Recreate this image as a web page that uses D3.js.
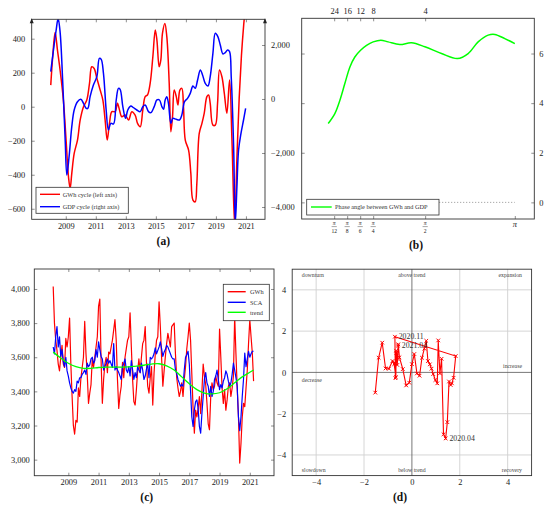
<!DOCTYPE html>
<html>
<head>
<meta charset="utf-8">
<script src="https://cdn.jsdelivr.net/npm/d3@7"></script>
<style>
  body { margin: 0; background: #fff; }
</style>
</head>
<body>
<svg id="fig" width="550" height="509"></svg>
<script>
// ---- data ----

// (a) cyclical components: [year, value]
var gwhCycle = [[2008.0,127],[2008.13,294],[2008.29,437],[2008.45,330],[2008.62,216],[2008.84,39],[2009.02,-196],[2009.18,-412],[2009.29,-480],[2009.4,-392],[2009.56,-275],[2009.78,-196],[2009.96,-78],[2010.18,0],[2010.4,39],[2010.58,137],[2010.73,235],[2010.89,225],[2011.07,167],[2011.29,98],[2011.47,39],[2011.62,-78],[2011.76,-196],[2011.91,-98],[2012.07,-29],[2012.29,-29],[2012.44,20],[2012.58,-20],[2012.73,-59],[2012.96,-49],[2013.18,-78],[2013.4,-29],[2013.62,-49],[2013.78,-98],[2013.96,-118],[2014.13,-20],[2014.29,59],[2014.44,69],[2014.62,137],[2014.8,294],[2014.96,451],[2015.07,392],[2015.22,235],[2015.33,274],[2015.44,431],[2015.6,490],[2015.73,412],[2015.89,137],[2016.0,-147],[2016.11,-59],[2016.22,98],[2016.36,59],[2016.47,10],[2016.6,98],[2016.73,108],[2016.84,0],[2016.96,-196],[2017.18,-255],[2017.33,-392],[2017.47,-549],[2017.62,-559],[2017.73,-451],[2017.89,-157],[2018.07,-98],[2018.22,-39],[2018.4,59],[2018.51,69],[2018.62,20],[2018.8,-108],[2018.96,-108],[2019.11,20],[2019.24,216],[2019.4,176],[2019.56,78],[2019.73,-39],[2019.91,157],[2020.07,-200],[2020.25,-700],[2020.4,-300],[2020.55,50],[2020.7,300],[2020.85,480],[2021.0,620]];
var gdpCycle = [[2008.0,1012],[2008.18,1815],[2008.36,2556],[2008.49,2988],[2008.62,2494],[2008.8,580],[2008.96,-1519],[2009.07,-2815],[2009.22,-2136],[2009.4,-1025],[2009.56,-407],[2009.78,-99],[2010.0,-12],[2010.18,-160],[2010.36,-346],[2010.47,-346],[2010.62,86],[2010.84,519],[2011.07,827],[2011.24,1506],[2011.36,1469],[2011.51,951],[2011.69,-407],[2011.84,-1148],[2012.0,-901],[2012.18,-926],[2012.36,-37],[2012.51,395],[2012.62,358],[2012.8,-284],[2012.98,-716],[2013.13,-407],[2013.33,-259],[2013.51,-321],[2013.73,-407],[2013.96,-469],[2014.13,-284],[2014.29,-222],[2014.51,-469],[2014.67,-506],[2014.89,-284],[2015.07,-37],[2015.24,-37],[2015.4,-284],[2015.51,-383],[2015.62,-37],[2015.73,86],[2015.84,-160],[2016.0,-901],[2016.13,-716],[2016.36,-753],[2016.58,-778],[2016.73,-593],[2016.91,-99],[2017.11,25],[2017.29,210],[2017.47,481],[2017.62,395],[2017.78,704],[2017.96,1074],[2018.11,889],[2018.29,580],[2018.47,481],[2018.62,827],[2018.8,1691],[2018.96,2432],[2019.13,2309],[2019.29,2000],[2019.47,1667],[2019.62,1716],[2019.78,1815],[2019.91,1753],[2020.02,827],[2020.18,-1765],[2020.29,-4600],[2020.4,-3247],[2020.51,-1889],[2020.67,-1272],[2020.84,-778],[2020.98,-346]];
var yearTicks = [2009, 2011, 2013, 2015, 2017, 2019, 2021];
var gwhCycleTicks = [-600, -400, -200, 0, 200, 400];
var gdpCycleTicks = [-4000, -2000, 0, 2000];

// (b) phase angle against frequency position: [position, value]
var phaseAngle = [[0.54,3.18],[1.05,3.58],[1.44,4.12],[1.82,4.79],[2.21,5.46],[2.59,5.86],[3.03,6.13],[3.49,6.33],[4.0,6.47],[4.59,6.54],[5.15,6.47],[6.05,6.36],[6.95,6.43],[7.98,6.27],[9.26,6.0],[10.49,5.8],[11.31,6.0],[12.08,6.47],[12.85,6.74],[13.36,6.77],[14.13,6.6],[14.9,6.4]];
var periodTicks = [{at: 1, label: "24"}, {at: 2, label: "16"}, {at: 3, label: "12"}, {at: 4, label: "8"}, {at: 8, label: "4"}];
var freqTicks = [{at: 1, den: "12"}, {at: 2, den: "8"}, {at: 3, den: "6"}, {at: 4, den: "4"}, {at: 8, den: "2"}, {at: 14.9, den: null}];
var phaseTicks = [0, 2, 4, 6];

// (c) monthly series from Jan 2008 to Apr 2021
var seriesStart = 2008;
var gwhMonthly = [
  4014,3800,3700,3640,3560,3520,3600,3670,3560,3540,3710,3660,
  3720,3830,3560,3370,3200,3150,3230,3220,3420,3370,3480,3540,
  3600,3810,3620,3500,3330,3390,3440,3590,3540,3600,3660,3720,
  3900,3940,3580,3330,3470,3560,3600,3510,3630,3620,3660,3700,
  3760,3820,3700,3470,3300,3380,3430,3570,3480,3600,3650,3700,
  3720,3860,3660,3470,3340,3320,3410,3520,3590,3510,3600,3680,
  3700,3780,3570,3430,3390,3480,3545,3320,3505,3620,3700,3720,
  3925,3780,3600,3430,3520,3605,3680,3740,3700,3660,3780,3790,
  3800,3620,3480,3420,3370,3400,3450,3370,3470,3545,3650,3720,
  3800,3700,3500,3300,3155,3290,3250,3300,3370,3270,3400,3560,
  3490,3440,3330,3210,3175,3370,3450,3410,3430,3490,3450,3430,
  3765,3600,3420,3330,3410,3290,3350,3430,3450,3370,3420,3490,
  3840,3620,3420,3250,2980,3095,3250,3330,3310,3420,3525,3680,
  3820,3720,3625,3460];
var scaMonthly = [
  3660,3620,3720,3780,3660,3720,3605,3645,3575,3545,3600,3520,
  3490,3450,3420,3400,3390,3410,3400,3460,3450,3480,3480,3500,
  3510,3525,3500,3565,3545,3555,3590,3600,3565,3580,3645,3600,
  3690,3645,3605,3590,3525,3545,3565,3590,3565,3580,3560,3540,
  3680,3525,3545,3525,3510,3490,3470,3545,3565,3590,3525,3510,
  3545,3490,3580,3525,3470,3510,3480,3545,3525,3510,3565,3525,
  3470,3490,3530,3560,3480,3600,3590,3600,3620,3655,3620,3640,
  3660,3690,3650,3605,3630,3645,3670,3660,3640,3620,3600,3590,
  3590,3525,3505,3470,3450,3430,3440,3430,3525,3600,3615,3635,
  3560,3400,3250,3195,3290,3340,3350,3300,3195,3155,3270,3370,
  3470,3510,3450,3430,3370,3430,3370,3400,3470,3490,3525,3470,
  3410,3440,3420,3460,3480,3520,3500,3460,3430,3450,3500,3565,
  3525,3480,3430,3250,3170,3250,3370,3470,3625,3545,3590,3635,
  3600,3620,3635,3635];
var trendYears = [2008,2008.5,2009,2009.5,2010,2010.5,2011,2011.5,2012,2012.5,2013,2013.5,2014,2014.5,2015,2015.5,2016,2016.5,2017,2017.5,2018,2018.5,2019,2019.5,2020,2020.5,2021,2021.25];
var trendValues = [3630,3595,3565,3545,3535,3535,3540,3542,3542,3542,3543,3548,3553,3560,3562,3550,3525,3485,3445,3410,3390,3385,3392,3415,3450,3485,3512,3525];
var gwhTicks = [3000, 3200, 3400, 3600, 3800, 4000];

// (d) cycle clock: [growth, deviation], in time order
var clockPoints = [[-1.53,-0.98],[-1.39,0.71],[-1.24,1.44],[-1.10,0.19],[-0.96,0.18],[-0.81,0.55],[-0.74,0.40],[-0.67,-0.23],[-0.66,1.05],[-0.61,0.36],[-0.57,1.36],[-0.52,0.73],[-0.38,0.16],[-0.24,-0.63],[-0.11,-0.50],[0.0,0.40],[0.10,0.89],[0.21,-0.05],[0.32,-0.16],[0.42,0.71],[0.52,1.15],[0.60,1.53],[0.67,0.55],[0.75,0.39],[0.82,0.18],[0.89,-0.08],[0.98,-0.37],[1.06,-0.53],[1.10,1.55],[1.17,-0.05],[1.24,0.66],[1.32,-3.0],[1.41,-3.2],[1.48,-2.41],[1.55,-0.44],[1.62,-0.61],[1.67,-0.53],[1.74,-0.26],[1.83,0.79],[-0.71,1.73],[-0.69,-0.28],[-0.70,0.45],[-0.65,0.95],[-0.60,0.65],[-0.58,1.30]];
var clockLabels = [{i: 32, text: "2020.04"}, {i: 39, text: "2020.11"}, {i: 44, text: "2021.04"}];
var clockTicks = [-4, -2, 0, 2, 4];
var clockGrid = [-4, -2, 2, 4];

// ---- drawing ----
var svg = d3.select("#fig");
var serif = '"Liberation Serif","DejaVu Serif",serif';
svg.attr("font-family", serif);

function frame(r) {
  svg.append("rect")
    .attr("x", r.left).attr("y", r.top)
    .attr("width", r.right - r.left).attr("height", r.bottom - r.top)
    .attr("fill", "none").attr("stroke", "#333").attr("stroke-width", 0.9);
}

function clipFor(id, r) {
  svg.append("clipPath").attr("id", id).append("rect")
    .attr("x", r.left).attr("y", r.top)
    .attr("width", r.right - r.left).attr("height", r.bottom - r.top);
  return svg.append("g").attr("clip-path", "url(#" + id + ")");
}

function axis(gen, tx, ty) {
  var a = svg.append("g").attr("transform", "translate(" + tx + "," + ty + ")").call(gen);
  a.attr("font-family", serif).attr("font-size", 8.4);
  a.select(".domain").remove();
  a.selectAll("line").attr("stroke", "#444").attr("stroke-width", 0.6);
  a.selectAll("text").attr("fill", "#222");
  return a;
}

function legend(box, rows, x1, x2, tx) {
  svg.append("rect").attr("x", box[0]).attr("y", box[1])
    .attr("width", box[2] - box[0]).attr("height", box[3] - box[1])
    .attr("fill", "#fff").attr("stroke", "#333").attr("stroke-width", 0.8);
  rows.forEach(function (r) {
    svg.append("line").attr("x1", x1).attr("x2", x2).attr("y1", r.y).attr("y2", r.y)
      .attr("stroke", r.color).attr("stroke-width", 1.4);
    svg.append("text").attr("x", tx).attr("y", r.y).attr("dy", "0.35em")
      .attr("font-size", 6.3).attr("fill", "#333").text(r.label);
  });
}

function caption(x, y, t) {
  svg.append("text").attr("x", x).attr("y", y).attr("dy", "0.35em")
    .attr("text-anchor", "middle").attr("font-size", 11.5).attr("font-weight", "bold")
    .attr("fill", "#111").text(t);
}

var fmtComma = d3.format(",");

// ===== (a) =====
var A = {left: 31.7, right: 265, top: 19.3, bottom: 219.3};
var xA = d3.scaleLinear().domain([2006.73, 2022.27]).range([A.left, A.right]);
var yAL = d3.scaleLinear().domain([-662, 514]).range([A.bottom, A.top]);
var yAR = d3.scaleLinear().domain([-4456, 2952]).range([A.bottom, A.top]);

axis(d3.axisBottom(xA).tickValues(yearTicks).tickFormat(d3.format("d")).tickSizeInner(-3).tickSizeOuter(0).tickPadding(4), 0, A.bottom);
axis(d3.axisTop(xA).tickValues(yearTicks).tickFormat("").tickSizeInner(-3).tickSizeOuter(0), 0, A.top);
axis(d3.axisLeft(yAL).tickValues(gwhCycleTicks).tickFormat(d3.format("d")).tickSizeInner(-3).tickSizeOuter(0).tickPadding(6.5), A.left, 0);
axis(d3.axisRight(yAR).tickValues(gdpCycleTicks).tickFormat(fmtComma).tickSizeInner(-3).tickSizeOuter(0).tickPadding(6), A.right, 0);

var plotA = clipFor("clipA", A);
var lineAL = d3.line().x(function (d) { return xA(d[0]); }).y(function (d) { return yAL(d[1]); }).curve(d3.curveCatmullRom.alpha(0.5));
var lineAR = d3.line().x(function (d) { return xA(d[0]); }).y(function (d) { return yAR(d[1]); }).curve(d3.curveCatmullRom.alpha(0.5));
plotA.append("path").datum(gwhCycle).attr("d", lineAL).attr("fill", "none").attr("stroke", "#ff0000").attr("stroke-width", 1.5);
plotA.append("path").datum(gdpCycle).attr("d", lineAR).attr("fill", "none").attr("stroke", "#0000ff").attr("stroke-width", 1.5);
frame(A);
// arrow tips on the two vertical axes
[A.left, A.right].forEach(function (x) {
  svg.append("path").attr("d", "M" + (x - 2) + "," + (A.top + 4) + "L" + x + "," + (A.top - 1) + "L" + (x + 2) + "," + (A.top + 4) + "Z")
    .attr("fill", "#222");
});
legend([36, 187.3, 128.3, 213.3], [
  {y: 194.3, color: "#ff0000", label: "GWh cycle (left axis)"},
  {y: 206.7, color: "#0000ff", label: "GDP cycle (right axis)"}
], 40, 60, 62.7);
caption(163.3, 241, "(a)");

// ===== (b) =====
var B = {left: 301.7, right: 534.3, top: 18.3, bottom: 219};
var xB = d3.scaleLinear().domain([-1.5, 16.4]).range([B.left, B.right]);
var yB = d3.scaleLinear().domain([-0.67, 7.42]).range([B.bottom, B.top]);

axis(d3.axisRight(yB).tickValues(phaseTicks).tickSizeInner(-3).tickSizeOuter(0).tickPadding(5), B.right, 0);
axis(d3.axisLeft(yB).tickValues(phaseTicks).tickFormat("").tickSizeInner(-3).tickSizeOuter(0), B.left, 0);
axis(d3.axisTop(xB).tickValues(periodTicks.map(function (d) { return d.at; }))
  .tickFormat(function (d, i) { return periodTicks[i].label; })
  .tickSizeInner(-3).tickSizeOuter(0).tickPadding(4), 0, B.top);
axis(d3.axisBottom(xB).tickValues(freqTicks.map(function (d) { return d.at; })).tickFormat("")
  .tickSizeInner(-3).tickSizeOuter(0), 0, B.bottom);

freqTicks.forEach(function (t) {
  var cx = xB(t.at);
  if (t.den) {
    svg.append("text").attr("x", cx).attr("y", B.bottom + 3.6).attr("dy", "0.35em")
      .attr("text-anchor", "middle").attr("font-size", 5.6).attr("font-style", "italic").attr("fill", "#222").text("π");
    svg.append("line").attr("x1", cx - 2.6).attr("x2", cx + 2.6)
      .attr("y1", B.bottom + 7.6).attr("y2", B.bottom + 7.6).attr("stroke", "#222").attr("stroke-width", 0.4);
    svg.append("text").attr("x", cx).attr("y", B.bottom + 11.6).attr("dy", "0.35em")
      .attr("text-anchor", "middle").attr("font-size", 5.6).attr("fill", "#222").text(t.den);
  } else {
    svg.append("text").attr("x", cx).attr("y", B.bottom + 5.5).attr("dy", "0.35em")
      .attr("text-anchor", "middle").attr("font-size", 8.4).attr("font-style", "italic").attr("fill", "#222").text("π");
  }
});

var plotB = clipFor("clipB", B);
var xExtentB = d3.extent(phaseAngle, function (d) { return d[0]; });
plotB.append("line").attr("x1", xB(xExtentB[0])).attr("x2", xB(xExtentB[1]))
  .attr("y1", yB(0)).attr("y2", yB(0))
  .attr("stroke", "#666").attr("stroke-width", 0.7).attr("stroke-dasharray", "1,2");
var lineB = d3.line().x(function (d) { return xB(d[0]); }).y(function (d) { return yB(d[1]); }).curve(d3.curveCatmullRom.alpha(0.5));
plotB.append("path").datum(phaseAngle).attr("d", lineB).attr("fill", "none").attr("stroke", "#00ff00").attr("stroke-width", 1.5);
frame(B);
legend([306.7, 199.3, 439, 215], [
  {y: 207, color: "#00ff00", label: "Phase angle between GWh and GDP"}
], 311, 331.7, 335);
caption(416, 245, "(b)");

// ===== (c) =====
var C = {left: 34.3, right: 274, top: 269, bottom: 475.7};
var xC = d3.scaleLinear().domain([2006.75, 2022.6]).range([C.left, C.right]);
var yC = d3.scaleLinear().domain([2906, 4117]).range([C.bottom, C.top]);

axis(d3.axisBottom(xC).tickValues(yearTicks).tickFormat(d3.format("d")).tickSizeInner(-3).tickSizeOuter(0).tickPadding(3), 0, C.bottom);
axis(d3.axisTop(xC).tickValues(yearTicks).tickFormat("").tickSizeInner(-3).tickSizeOuter(0), 0, C.top);
axis(d3.axisLeft(yC).tickValues(gwhTicks).tickFormat(fmtComma).tickSizeInner(-3).tickSizeOuter(0).tickPadding(4.5), C.left, 0);
axis(d3.axisRight(yC).tickValues(gwhTicks).tickFormat("").tickSizeInner(-3).tickSizeOuter(0), C.right, 0);

function monthly(values) {
  return values.map(function (v, i) { return [seriesStart + i / 12, v]; });
}
var plotC = clipFor("clipC", C);
var lineC = d3.line().x(function (d) { return xC(d[0]); }).y(function (d) { return yC(d[1]); });
plotC.append("path").datum(monthly(gwhMonthly)).attr("d", lineC).attr("fill", "none").attr("stroke", "#ff0000").attr("stroke-width", 1.2).attr("stroke-linejoin", "round");
plotC.append("path").datum(monthly(scaMonthly)).attr("d", lineC).attr("fill", "none").attr("stroke", "#0000ff").attr("stroke-width", 1.2).attr("stroke-linejoin", "round");
var trend = trendYears.map(function (y, i) { return [y, trendValues[i]]; });
plotC.append("path").datum(trend).attr("d", lineC.curve(d3.curveCatmullRom.alpha(0.5))).attr("fill", "none").attr("stroke", "#00ff00").attr("stroke-width", 1.3);
frame(C);
legend([223.3, 284.3, 269.3, 320.7], [
  {y: 291.7, color: "#ff0000", label: "GWh"},
  {y: 302.3, color: "#0000ff", label: "SCA"},
  {y: 312.3, color: "#00ff00", label: "trend"}
], 227.7, 245.7, 250);
caption(146.7, 497, "(c)");

// ===== (d) =====
var D = {left: 292.2, right: 531.6, top: 269.2, bottom: 475.6};
var xD = d3.scaleLinear().domain([-5, 5]).range([D.left, D.right]);
var yD = d3.scaleLinear().domain([-5, 5]).range([D.bottom, D.top]);

var gridD = svg.append("g");
clockGrid.forEach(function (v) {
  gridD.append("line").attr("x1", xD(v)).attr("x2", xD(v)).attr("y1", D.top).attr("y2", D.bottom)
    .attr("stroke", "#d0d0d0").attr("stroke-width", 0.9);
  gridD.append("line").attr("x1", D.left).attr("x2", D.right).attr("y1", yD(v)).attr("y2", yD(v))
    .attr("stroke", "#d0d0d0").attr("stroke-width", 0.9);
});
gridD.append("line").attr("x1", xD(0)).attr("x2", xD(0)).attr("y1", D.top).attr("y2", D.bottom)
  .attr("stroke", "#555").attr("stroke-width", 0.8);
gridD.append("line").attr("x1", D.left).attr("x2", D.right).attr("y1", yD(0)).attr("y2", yD(0))
  .attr("stroke", "#555").attr("stroke-width", 0.8);

axis(d3.axisBottom(xD).tickValues(clockTicks).tickSize(0).tickPadding(3.5), 0, D.bottom);
axis(d3.axisLeft(yD).tickValues(clockTicks).tickSize(0).tickPadding(6), D.left, 0);

var quadrants = [
  {x: -4.6, y: 4.7, a: "start", t: "downturn"},
  {x: 0, y: 4.7, a: "middle", t: "above trend"},
  {x: 4.6, y: 4.7, a: "end", t: "expansion"},
  {x: 4.6, y: 0.3, a: "end", t: "increase"},
  {x: -4.6, y: -0.35, a: "start", t: "decrease"},
  {x: -4.6, y: -4.75, a: "start", t: "slowdown"},
  {x: 0, y: -4.75, a: "middle", t: "below trend"},
  {x: 4.6, y: -4.75, a: "end", t: "recovery"}
];
quadrants.forEach(function (q) {
  svg.append("text").attr("x", xD(q.x)).attr("y", yD(q.y)).attr("dy", "0.35em")
    .attr("text-anchor", q.a).attr("font-size", 5.8).attr("fill", "#444").text(q.t);
});

var lineD = d3.line().x(function (d) { return xD(d[0]); }).y(function (d) { return yD(d[1]); });
svg.append("path").datum(clockPoints).attr("d", lineD).attr("fill", "none").attr("stroke", "#ff0000").attr("stroke-width", 1.1);
svg.selectAll(".mk").data(clockPoints).enter().append("path").attr("class", "mk")
  .attr("transform", function (d) { return "translate(" + xD(d[0]) + "," + yD(d[1]) + ")"; })
  .attr("d", "M-1.8,-1.8L1.8,1.8M-1.8,1.8L1.8,-1.8")
  .attr("stroke", "#ff0000").attr("stroke-width", 1);
clockLabels.forEach(function (l) {
  var p = clockPoints[l.i];
  svg.append("text").attr("x", xD(p[0]) + 3.8).attr("y", yD(p[1])).attr("dy", "0.35em")
    .attr("font-size", 7.8).attr("fill", "#333").text(l.text);
});
frame(D);
caption(400, 497, "(d)");
</script>
</body>
</html>
